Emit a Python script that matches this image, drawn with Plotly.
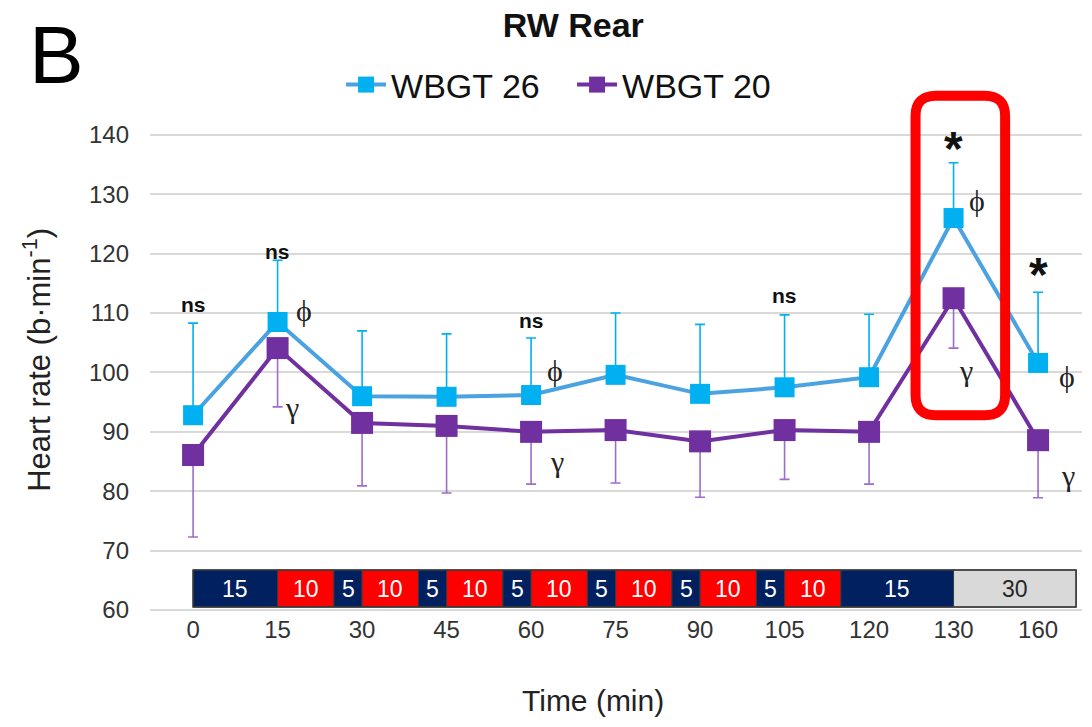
import plotly.graph_objects as go

# Sampling times (min) and heart-rate means / one-sided SDs
time_labels = ["0", "15", "30", "45", "60", "75", "90", "105", "120", "130", "160"]
wbgt26_mean = [92.8, 108.5, 96.0, 95.9, 96.2, 99.6, 96.4, 97.5, 99.2, 126.0, 101.6]
wbgt26_sd = [15.5, 10.4, 11.0, 10.6, 9.6, 10.4, 11.7, 12.2, 10.6, 9.3, 11.9]
wbgt20_mean = [86.1, 104.1, 91.5, 91.0, 90.0, 90.3, 88.4, 90.3, 90.0, 112.5, 88.6]
wbgt20_sd = [13.8, 9.9, 10.6, 11.3, 8.8, 8.9, 9.4, 8.3, 8.8, 8.4, 9.7]

# Significance marks (time indices)
ns_marks = [0, 1, 4, 7]
star_marks = [9, 10]
phi_marks = [1, 4, 9, 10]
gamma_marks = [1, 4, 9, 10]

# Exercise protocol blocks (min) and their kind
protocol_minutes = ["15", "10", "5", "10", "5", "10", "5", "10", "5", "10", "5", "10", "5", "10", "15", "30"]
protocol_kind = ["rest", "run", "rest", "run", "rest", "run", "rest", "run", "rest",
                 "run", "rest", "run", "rest", "run", "rest", "recovery"]

x = list(range(len(time_labels)))
n = len(x)

C26_LINE = "#4AA3E0"
C26_MARK = "#00B0F0"
C20 = "#7030A0"
C20_ERR = "#9E6CCB"

fig = go.Figure()
fig.add_trace(go.Scatter(
    x=x, y=wbgt26_mean, name="WBGT 26", mode="lines+markers",
    line=dict(color=C26_LINE, width=4),
    marker=dict(symbol="square", size=20, color=C26_MARK),
    error_y=dict(type="data", symmetric=False, array=wbgt26_sd, arrayminus=[0] * n,
                 color=C26_MARK, thickness=1.6, width=5),
))
fig.add_trace(go.Scatter(
    x=x, y=wbgt20_mean, name="WBGT 20", mode="lines+markers",
    line=dict(color=C20, width=4),
    marker=dict(symbol="square", size=22, color=C20),
    error_y=dict(type="data", symmetric=False, array=[0] * n, arrayminus=wbgt20_sd,
                 color=C20_ERR, thickness=1.6, width=5),
))

shapes = []
annotations = []

# Protocol bar along the bottom of the plot
seg_edges = [0, 1, 1.667, 2, 2.667, 3, 3.667, 4, 4.667, 5, 5.667, 6, 6.667, 7, 7.667, 9.0, 10.45]
kind_fill = {"rest": "#002060", "run": "#FF0000", "recovery": "#D9D9D9"}
kind_text = {"rest": "white", "run": "white", "recovery": "#262626"}
bar_y0, bar_y1 = 60.5, 66.75
for i, (lab, kind) in enumerate(zip(protocol_minutes, protocol_kind)):
    x0, x1 = seg_edges[i], seg_edges[i + 1]
    shapes.append(dict(type="rect", xref="x", yref="y", x0=x0, x1=x1, y0=bar_y0, y1=bar_y1,
                       fillcolor=kind_fill[kind], line=dict(color="#3A3A3A", width=1), layer="above"))
    annotations.append(dict(x=(x0 + x1) / 2, y=(bar_y0 + bar_y1) / 2, xref="x", yref="y",
                            text=lab, showarrow=False,
                            font=dict(size=23, color=kind_text[kind], family="Liberation Sans")))
shapes.append(dict(type="rect", xref="x", yref="y", x0=seg_edges[0], x1=seg_edges[-1],
                   y0=bar_y0, y1=bar_y1, line=dict(color="#3A3A3A", width=1.5), layer="above"))

# Rounded highlight box around the 130-min sample
bx0, bx1, by0, by1 = 8.55, 9.61, 92.8, 146.6
rx, ry = 0.24, 3.4
path = (f"M {bx0 + rx},{by1} L {bx1 - rx},{by1} Q {bx1},{by1} {bx1},{by1 - ry} "
        f"L {bx1},{by0 + ry} Q {bx1},{by0} {bx1 - rx},{by0} "
        f"L {bx0 + rx},{by0} Q {bx0},{by0} {bx0},{by0 + ry} "
        f"L {bx0},{by1 - ry} Q {bx0},{by1} {bx0 + rx},{by1} Z")
shapes.append(dict(type="path", xref="x", yref="y", path=path,
                   line=dict(color="#FF0000", width=10), layer="above"))

# Significance labels
ns_shift = {0: 19, 1: 9, 4: 18, 7: 19}
for i in ns_marks:
    annotations.append(dict(x=i, y=wbgt26_mean[i] + wbgt26_sd[i], xref="x", yref="y",
                            yshift=ns_shift[i], text="<b>ns</b>", showarrow=False,
                            font=dict(size=21, color="#111111", family="Liberation Sans")))
star_shift = {9: 14, 10: 18}
for i in star_marks:
    annotations.append(dict(x=i, y=wbgt26_mean[i] + wbgt26_sd[i], xref="x", yref="y",
                            yshift=star_shift[i], text="<b>*</b>", showarrow=False,
                            font=dict(size=48, color="#111111", family="Liberation Sans")))
phi_off = {1: (26, 11), 4: (24, 25), 9: (23, 18), 10: (29, -14)}
for i in phi_marks:
    dx, dy = phi_off[i]
    annotations.append(dict(x=i, y=wbgt26_mean[i], xref="x", yref="y", xshift=dx, yshift=dy,
                            text="ϕ", showarrow=False,
                            font=dict(size=30, color="#222222", family="Liberation Serif")))
gamma_off = {1: (14, -59), 4: (26, -30), 9: (12, -72), 10: (30, -35)}
for i in gamma_marks:
    dx, dy = gamma_off[i]
    annotations.append(dict(x=i, y=wbgt20_mean[i], xref="x", yref="y", xshift=dx, yshift=dy,
                            text="γ", showarrow=False,
                            font=dict(size=30, color="#222222", family="Liberation Serif")))

# Panel letter and axis titles
annotations.append(dict(x=-0.132, y=1.057, xref="paper", yref="paper", xanchor="left", yanchor="middle",
                        text="B", showarrow=False,
                        font=dict(size=82, color="black", family="Liberation Sans")))
annotations.append(dict(x=-0.122, y=0.48, xref="paper", yref="paper", textangle=-90,
                        xanchor="center", yanchor="middle",
                        text="Heart rate (b·min<sup>-1</sup>)", showarrow=False,
                        font=dict(size=31, color="#222222", family="Liberation Sans")))
annotations.append(dict(x=0.475, y=-0.165, xref="paper", yref="paper",
                        xanchor="center", yanchor="middle",
                        text="Time (min)", showarrow=False,
                        font=dict(size=30, color="#222222", family="Liberation Sans")))

fig.update_layout(
    width=1092, height=727,
    margin=dict(l=150, r=10, t=85, b=114),
    paper_bgcolor="white", plot_bgcolor="white",
    title=dict(text="<b>RW Rear</b>", x=0.525, xanchor="center", y=0.966, yanchor="middle",
               font=dict(size=34, color="#111111", family="Liberation Sans")),
    showlegend=True,
    legend=dict(orientation="h", x=0.205, xanchor="left", y=1.0, yanchor="middle",
                font=dict(size=34, color="#111111", family="Liberation Sans"),
                bgcolor="rgba(0,0,0,0)", itemwidth=40, entrywidth=176, entrywidthmode="pixels"),
    xaxis=dict(range=[-0.51, 10.52], tickmode="array", tickvals=x, ticktext=time_labels,
               showgrid=False, zeroline=False, showline=False, ticks="",
               tickfont=dict(size=24, color="#333333", family="Liberation Sans")),
    yaxis=dict(range=[59.5, 148.4], tickmode="array", tickvals=list(range(60, 141, 10)),
               showgrid=True, gridcolor="#D9D9D9", gridwidth=2, zeroline=False, showline=False,
               ticks="", ticklabelstandoff=20,
               tickfont=dict(size=24, color="#333333", family="Liberation Sans")),
    shapes=shapes, annotations=annotations,
)

fig.write_html("out.html")
